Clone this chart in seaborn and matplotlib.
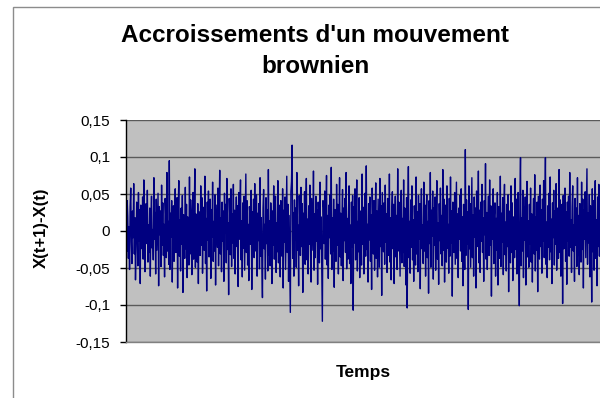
import numpy as np
import pandas as pd
import matplotlib
matplotlib.use("Agg")
import matplotlib.pyplot as plt
import seaborn as sns
from matplotlib.patches import Rectangle

# --- DATA ---
increments = [
    0.012, -0.028, 0.041, 0.019, -0.037, 0.006, -0.052, 0.033, 0.058, -0.015,
    -0.044, 0.027, -0.009, 0.064, -0.031, 0.018, -0.066, -0.021, 0.039, 0.004,
    -0.047, 0.052, -0.013, 0.029, -0.071, 0.035, 0.011, -0.024, 0.046, -0.038,
    0.069, -0.006, -0.055, 0.022, 0.037, -0.017, 0.055, -0.042, 0.008, -0.029,
    0.031, -0.061, 0.014, 0.047, -0.023, 0.002, -0.039, 0.072, -0.011, 0.025,
    -0.058, 0.043, -0.026, 0.016, 0.051, -0.074, 0.033, -0.005, 0.027, -0.048,
    0.062, -0.019, 0.038, -0.033, 0.009, -0.062, 0.044, 0.021, -0.036, 0.079,
    -0.027, 0.013, -0.045, 0.095, -0.052, 0.024, -0.008, 0.041, -0.069, 0.017,
    0.034, -0.041, 0.003, 0.057, -0.029, -0.012, 0.045, -0.077, 0.026, 0.068,
    -0.034, 0.015, -0.054, 0.031, -0.018, 0.048, -0.083, 0.022, 0.011, -0.037,
    0.059, -0.024, 0.036, -0.063, 0.019, 0.005, -0.046, 0.073, -0.031, 0.042,
    -0.015, -0.059, 0.028, 0.052, -0.038, 0.012, 0.084, -0.049, 0.023, -0.006,
    -0.042, 0.037, -0.071, 0.026, 0.014, -0.033, 0.061, -0.019, 0.045, -0.057,
    0.008, 0.032, -0.026, 0.074, -0.044, 0.017, -0.081, 0.039, -0.012, 0.054,
    -0.035, 0.021, 0.043, -0.064, 0.029, -0.008, 0.066, -0.041, 0.013, -0.027,
    0.049, -0.073, 0.035, 0.004, -0.022, 0.058, -0.047, 0.026, 0.082, -0.031,
    0.018, -0.055, 0.039, -0.014, 0.027, -0.068, 0.051, -0.003, 0.036, -0.043,
    0.071, -0.025, 0.011, -0.086, 0.044, 0.019, -0.032, 0.057, -0.048, 0.023,
    -0.016, 0.063, -0.037, 0.028, -0.058, 0.007, 0.046, -0.021, 0.034, -0.075,
    0.052, -0.011, 0.025, 0.069, -0.039, 0.014, -0.062, 0.038, -0.023, 0.047,
    -0.053, 0.016, 0.077, -0.029, 0.041, -0.046, 0.009, -0.067, 0.033, 0.021,
    -0.018, 0.055, -0.079, 0.026, -0.004, 0.043, -0.036, 0.064, -0.027, 0.012,
    0.049, -0.061, 0.024, -0.013, 0.037, -0.051, 0.072, -0.034, 0.018, -0.042,
    -0.090, 0.031, 0.056, -0.024, 0.009, -0.065, 0.045, -0.017, 0.029, -0.054,
    0.083, -0.032, 0.014, -0.047, 0.038, 0.006, -0.071, 0.027, -0.019, 0.061,
    -0.038, 0.022, 0.047, -0.056, 0.011, -0.028, 0.068, -0.043, 0.035, -0.009,
    -0.062, 0.041, 0.019, -0.034, 0.057, -0.077, 0.028, -0.015, 0.046, -0.052,
    0.013, 0.074, -0.029, 0.036, -0.068, 0.021, -0.041, -0.110, 0.053, 0.067,
    0.116, -0.037, 0.025, -0.061, 0.042, -0.012, 0.031, -0.049, 0.079, -0.026,
    0.008, -0.074, 0.048, 0.015, -0.033, 0.059, -0.021, 0.037, -0.083, 0.024,
    -0.007, 0.053, -0.045, 0.029, 0.071, -0.039, 0.016, -0.058, 0.034, -0.018,
    0.062, -0.031, -0.069, 0.044, 0.011, -0.026, 0.081, -0.053, 0.023, -0.036,
    0.047, -0.014, 0.028, -0.072, 0.039, 0.005, -0.043, 0.066, -0.024, 0.019,
    -0.057, -0.122, 0.041, 0.032, -0.017, 0.054, -0.038, 0.012, 0.075, -0.046,
    0.021, -0.064, 0.035, -0.009, 0.049, -0.031, 0.086, -0.052, 0.018, -0.027,
    0.043, -0.076, 0.029, 0.007, -0.041, 0.063, -0.019, 0.036, -0.058, 0.014,
    0.072, -0.035, 0.024, -0.047, 0.011, 0.056, -0.067, 0.031, -0.013, 0.044,
    -0.029, 0.079, -0.051, 0.017, -0.038, 0.026, 0.061, -0.044, 0.008, -0.071,
    0.039, -0.022, 0.048, -0.107, 0.033, -0.016, 0.057, -0.039, 0.021, 0.069,
    -0.054, 0.013, -0.028, 0.045, -0.063, 0.027, 0.004, -0.046, 0.077, -0.018,
    0.032, -0.058, 0.016, 0.051, -0.034, 0.088, -0.025, 0.009, -0.069, 0.037,
    -0.012, 0.046, -0.041, 0.022, -0.079, 0.058, 0.019, -0.031, 0.041, -0.053,
    0.014, 0.065, -0.037, 0.027, -0.062, 0.043, -0.006, -0.049, 0.071, -0.021,
    0.034, -0.087, 0.052, 0.011, -0.028, 0.038, -0.045, 0.062, -0.015, 0.023,
    -0.056, 0.044, 0.009, -0.033, 0.077, -0.042, 0.018, -0.066, 0.029, 0.053,
    -0.024, 0.036, -0.071, 0.012, 0.047, -0.035, 0.021, -0.052, 0.084, -0.027,
    0.039, -0.014, -0.061, 0.028, 0.055, -0.043, 0.017, -0.029, 0.069, -0.048,
    0.031, 0.006, -0.073, 0.045, -0.104, 0.024, 0.087, -0.036, 0.013, -0.057,
    0.042, -0.022, 0.061, -0.039, 0.015, -0.068, 0.034, 0.009, -0.046, 0.073,
    -0.031, 0.026, -0.055, 0.048, -0.011, 0.037, -0.078, 0.019, 0.057, -0.024,
    0.008, -0.044, 0.066, -0.027, 0.035, -0.061, 0.022, 0.049, -0.036, 0.013,
    -0.084, 0.041, -0.017, 0.079, -0.049, 0.028, -0.007, 0.054, -0.065, 0.031,
    -0.019, 0.046, -0.053, 0.024, 0.068, -0.038, 0.011, -0.072, 0.037, -0.013,
    0.058, -0.031, 0.021, -0.047, 0.083, -0.026, 0.043, -0.069, 0.016, 0.035,
    -0.042, 0.061, -0.023, 0.009, -0.057, 0.044, -0.034, 0.073, -0.016, 0.027,
    -0.088, 0.039, 0.018, -0.029, 0.052, -0.045, 0.014, 0.066, -0.037, 0.023,
    -0.063, 0.031, -0.011, 0.048, -0.027, 0.057, -0.041, 0.019, -0.074, 0.036,
    0.004, -0.052, 0.110, -0.033, 0.042, -0.018, 0.026, -0.106, 0.061, -0.024,
    0.037, -0.049, 0.015, 0.072, -0.036, 0.022, -0.061, 0.046, -0.008, 0.031,
    -0.077, 0.054, -0.021, 0.013, 0.081, -0.043, 0.028, -0.056, 0.039, -0.014,
    0.063, -0.029, 0.018, -0.068, 0.041, -0.005, 0.091, -0.038, 0.025, -0.052,
    0.011, 0.047, -0.033, 0.069, -0.019, 0.034, -0.088, 0.026, -0.011, 0.057,
    -0.044, 0.021, 0.038, -0.061, 0.017, -0.026, 0.052, -0.073, 0.033, 0.008,
    -0.037, 0.074, -0.048, 0.024, -0.015, 0.045, -0.059, 0.029, 0.063, -0.032,
    0.012, -0.054, 0.036, -0.021, 0.049, -0.082, 0.027, 0.016, -0.043, 0.061,
    -0.029, 0.038, -0.067, 0.019, 0.004, -0.036, 0.071, -0.025, 0.043, -0.058,
    0.024, 0.052, -0.038, -0.101, 0.041, 0.099, -0.047, 0.018, -0.027, 0.055,
    -0.063, 0.032, -0.012, 0.046, -0.073, 0.028, 0.067, -0.035, 0.014, -0.049,
    0.036, -0.017, 0.058, -0.042, 0.023, -0.069, 0.011, 0.044, -0.031, 0.076,
    -0.054, 0.019, -0.026, 0.039, -0.082, 0.047, 0.006, -0.038, 0.062, -0.021,
    0.029, -0.057, 0.043, -0.014, 0.068, -0.036, 0.021, 0.099, -0.045, 0.012,
    -0.063, 0.034, -0.022, 0.051, -0.039, 0.073, -0.028, 0.016, -0.071, 0.038,
    -0.009, 0.055, -0.046, 0.027, -0.018, 0.064, -0.053, 0.031, 0.013, -0.037,
    0.083, -0.029, 0.042, -0.061, 0.019, 0.036, -0.098, 0.048, -0.024, 0.011,
    0.058, -0.041, 0.026, -0.072, 0.039, -0.013, 0.047, -0.034, 0.079, -0.022,
    0.015, -0.056, 0.033, 0.061, -0.027, 0.008, -0.068, 0.044, -0.019, 0.031,
    -0.048, 0.072, -0.033, 0.021, -0.059, 0.037, 0.014, -0.042, 0.066, -0.025,
    0.043, -0.077, 0.028, -0.011, 0.053, -0.036, 0.019, 0.084, -0.045, 0.024,
    -0.016, 0.049, -0.062, 0.034, 0.011, -0.096, 0.057, -0.028, 0.041, -0.053,
    0.022, 0.068, -0.037, 0.015, -0.074, 0.046, -0.021, 0.063, -0.034, 0.027,
]
y_ticks = [-0.15, -0.1, -0.05, 0, 0.05, 0.1, 0.15]
y_tick_labels = ["-0,15", "-0,1", "-0,05", "0", "0,05", "0,1", "0,15"]

title_lines = ["Accroissements d'un mouvement", "brownien"]
x_label = "Temps"
y_label = "X(t+1)-X(t)"

# --- STYLE ---
sns.set_style("white")
plt.rcParams['font.family'] = ['Liberation Sans', 'DejaVu Sans']
plt.rcParams['text.color'] = 'black'
plt.rcParams['ytick.color'] = 'black'
plt.rcParams['ytick.labelcolor'] = 'black'

df = pd.DataFrame({"t": np.arange(len(increments)), "dx": increments})

fig = plt.figure(figsize=(6.0, 3.98), dpi=100)
fig.patch.set_facecolor("white")

# outer chart border (Excel chart area), cropped on the right and bottom
fig.add_artist(Rectangle((13 / 600, -0.05), 1.2, 1 - 7 / 398 + 0.05,
                         transform=fig.transFigure, fill=False,
                         edgecolor="#8c8c8c", linewidth=1.0))

ax = fig.add_axes([126 / 600, 56 / 398, 474 / 600, 222 / 398])
ax.set_facecolor("#c0c0c0")

sns.lineplot(data=df, x="t", y="dx", color="#000080", linewidth=1.0, ax=ax)

ax.set_xlim(0, len(increments) - 1)
ax.set_ylim(-0.15, 0.15)
ax.set_yticks(y_ticks)
ax.set_yticklabels(y_tick_labels, fontsize=11, color="black")
ax.set_xticks([])
ax.yaxis.grid(True, color="#5a5a5a", linewidth=1.0)
ax.set_axisbelow(True)
ax.tick_params(axis="y", direction="out", length=4.5, width=1, color="black",
               labelcolor="black", pad=7, left=True)

for side in ["top", "right"]:
    ax.spines[side].set_visible(False)
ax.spines["left"].set_color("black")
ax.spines["left"].set_linewidth(1.0)
ax.spines["bottom"].set_color("#808080")
ax.spines["bottom"].set_linewidth(1.0)

ax.set_xlabel("")
ax.set_ylabel("")
fig.text(315 / 600, 1 - 42 / 398, title_lines[0], ha="center", va="baseline",
         fontsize=17.5, fontweight="bold", color="black")
fig.text(315 / 600, 1 - 73 / 398, title_lines[1], ha="center", va="baseline",
         fontsize=17.5, fontweight="bold", color="black")
fig.text(41 / 600, 1 - 228 / 398, y_label, ha="center", va="center",
         rotation=90, fontsize=12, fontweight="bold", color="black")
fig.text(363 / 600, 1 - 372 / 398, x_label, ha="center", va="center",
         fontsize=12.5, fontweight="bold", color="black")

fig.savefig("out.png", dpi=100)
